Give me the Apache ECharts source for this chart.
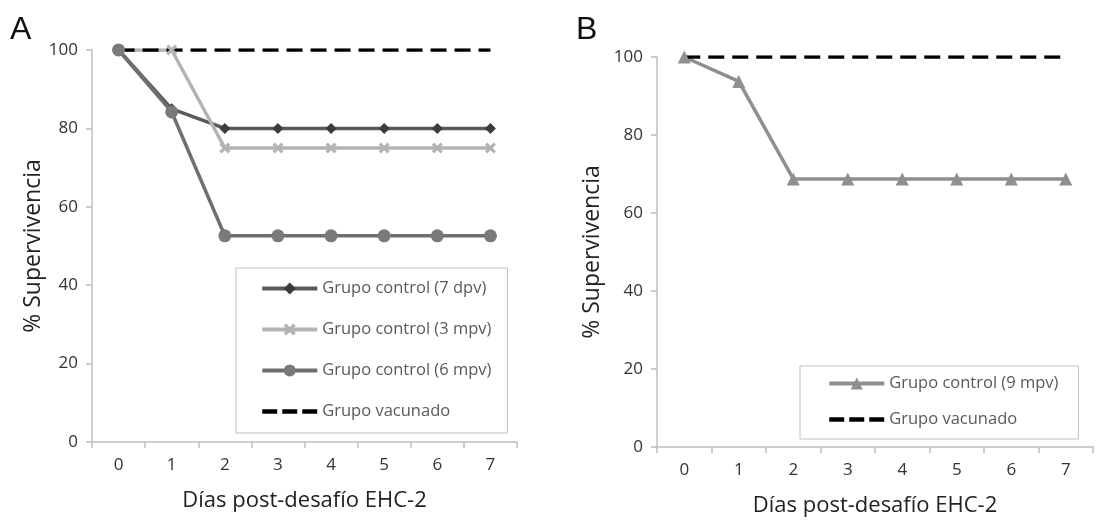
<!DOCTYPE html>
<html><head><meta charset="utf-8">
<script src="https://cdn.jsdelivr.net/npm/echarts@6/dist/echarts.min.js"></script>
<style>html,body{margin:0;padding:0;background:#fff}#c{width:1104px;height:522px}</style>
</head><body><div id="c"></div>
<script>
var days = ['0','1','2','3','4','5','6','7'];
var yTicks = [0,20,40,60,80,100];
// Panel A
var control7dpv = [100, 85, 80, 80, 80, 80, 80, 80];
var control3mpv = [100, 100, 75, 75, 75, 75, 75, 75];
var control6mpv = [100, 84.2, 52.6, 52.6, 52.6, 52.6, 52.6, 52.6];
var vacunadoA   = [100, 100, 100, 100, 100, 100, 100, 100];
// Panel B
var control9mpv = [100, 93.75, 68.75, 68.75, 68.75, 68.75, 68.75, 68.75];
var vacunadoB   = [100, 100, 100, 100, 100, 100, 100, 100];

var FONT = '"Open Sans", "Noto Sans", sans-serif';
var crossPath = 'path://M2,0 L5,3 L8,0 L10,2 L7,5 L10,8 L8,10 L5,7 L2,10 L0,8 L3,5 L0,2 Z';

function xAx(gi){
  return {type:'category', gridIndex:gi, data:days, boundaryGap:true,
    axisLine:{lineStyle:{color:'#bfbfbf', width:1.5}},
    axisTick:{show:true, length:6, lineStyle:{color:'#bfbfbf', width:1.5}},
    axisLabel:{color:'#333', fontSize:17, fontFamily:FONT, margin:15},
    name:'Días post-desafío EHC-2', nameLocation:'middle', nameGap:48,
    nameTextStyle:{color:'#222', fontSize:22, fontFamily:FONT}};
}
function yAx(gi, gap){
  return {type:'value', gridIndex:gi, min:yTicks[0], max:yTicks[yTicks.length-1], interval:20,
    axisLine:{show:true, lineStyle:{color:'#bfbfbf', width:1.5}},
    axisTick:{show:true, length:6, lineStyle:{color:'#bfbfbf', width:1.5}},
    splitLine:{show:false},
    axisLabel:{color:'#333', fontSize:17, fontFamily:FONT, margin:14},
    name:'% Supervivencia', nameLocation:'middle', nameGap:gap, nameRotate:90,
    nameTextStyle:{color:'#222', fontSize:23, fontFamily:FONT}};
}
function line(name, data, gi, color, symbol, size, symColor, extra){
  var s = {name:name, type:'line', xAxisIndex:gi, yAxisIndex:gi, data:data,
    symbol:symbol, symbolSize:size, showSymbol:symbol!=='none',
    lineStyle:{color:color, width:3.5}, itemStyle:{color:symColor||color},
    emphasis:{disabled:true}, animation:false};
  if(extra) Object.assign(s, extra);
  return s;
}
var vacLegend = {name:'Grupo vacunado', itemStyle:{opacity:0}, lineStyle:{width:4.5, type:[15,5]}};

var chart = echarts.init(document.getElementById('c'), null, {renderer:'canvas'});
chart.setOption({
  animation:false,
  backgroundColor:'#fff',
  textStyle:{fontFamily:FONT},
  graphic:[
    {type:'text', left:10, top:14, style:{text:'A', fontSize:32, fontFamily:'"Liberation Sans", Arial, sans-serif', fill:'#111'}},
    {type:'text', left:576, top:14, style:{text:'B', fontSize:32, fontFamily:'"Liberation Sans", Arial, sans-serif', fill:'#111'}}
  ],
  grid:[
    {left:92, top:50, width:425, height:392},
    {left:657, top:57, width:436, height:392}
  ],
  xAxis:[xAx(0), xAx(1)],
  yAxis:[yAx(0, 45), yAx(1, 53)],
  legend:[
    {orient:'vertical', left:236, top:268,
     padding:[12,16,13,24], itemGap:24, itemWidth:55, itemHeight:15,
     borderColor:'#bfbfbf', borderWidth:1, backgroundColor:'#fff',
     lineStyle:{width:4},
     textStyle:{color:'#595959', fontSize:16.5, fontFamily:FONT},
     data:['Grupo control (7 dpv)','Grupo control (3 mpv)','Grupo control (6 mpv)', vacLegend]},
    {orient:'vertical', left:800, top:366,
     padding:[9,20,11,27], itemGap:19, itemWidth:55, itemHeight:15,
     borderColor:'#bfbfbf', borderWidth:1, backgroundColor:'#fff',
     lineStyle:{width:4},
     textStyle:{color:'#595959', fontSize:16.5, fontFamily:FONT},
     data:['Grupo control (9 mpv)', vacLegend]}
  ],
  series:[
    line('Grupo control (7 dpv)', control7dpv, 0, '#5a5a5a', 'diamond', 11, '#3c3c3c'),
    line('Grupo control (3 mpv)', control3mpv, 0, '#b3b3b3', crossPath, 11, '#b3b3b3'),
    line('Grupo control (6 mpv)', control6mpv, 0, '#6f6f6f', 'circle', 13, '#7a7a7a'),
    line('Grupo vacunado', vacunadoA, 0, '#000', 'none', 0, '#000', {lineStyle:{color:'#000', width:3.5, type:[16,8]}}),
    line('Grupo control (9 mpv)', control9mpv, 1, '#8f8f8f', 'triangle', 13, '#8f8f8f'),
    line('Grupo vacunado', vacunadoB, 1, '#000', 'none', 0, '#000', {lineStyle:{color:'#000', width:3.5, type:[16,8]}})
  ]
});
</script></body></html>
